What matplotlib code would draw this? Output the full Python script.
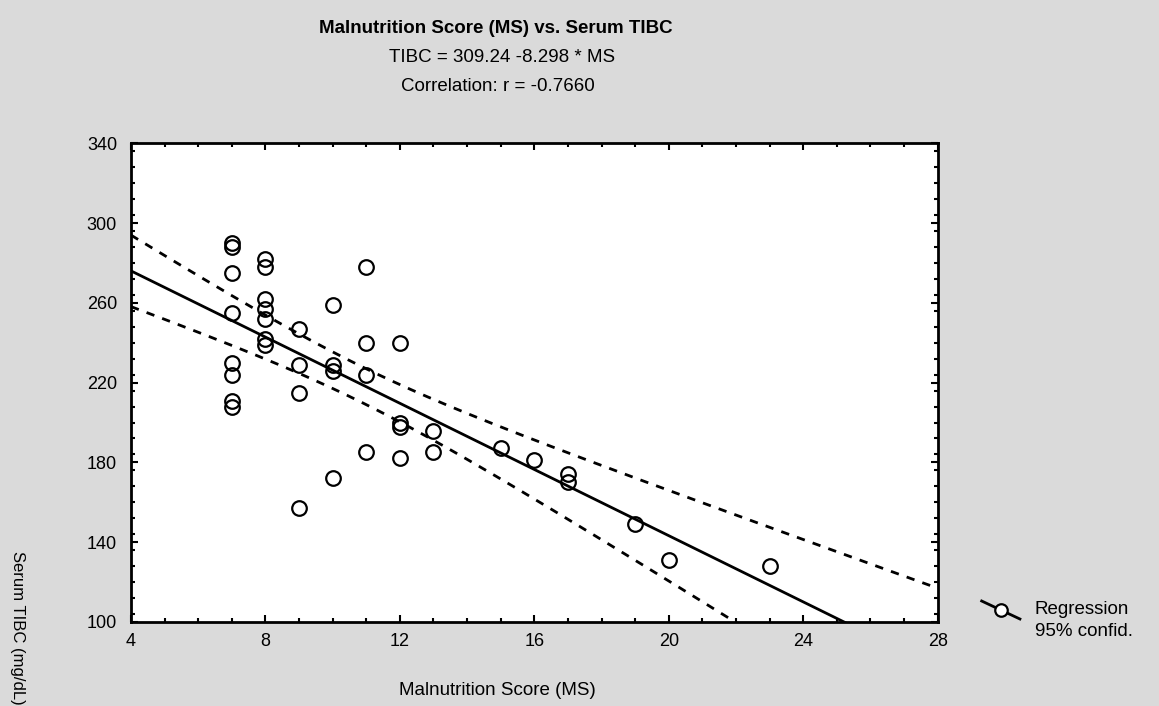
import numpy as np
import matplotlib
matplotlib.use("Agg")
import matplotlib.pyplot as plt
from matplotlib.lines import Line2D
from matplotlib.ticker import MultipleLocator

plt.rcParams['font.family'] = ['Liberation Sans', 'DejaVu Sans']

# ---- data ----
ms = [7, 7, 7, 7, 7, 7, 7, 7,
      8, 8, 8, 8, 8, 8, 8,
      9, 9, 9, 9,
      10, 10, 10, 10,
      11, 11, 11, 11,
      12, 12, 12, 12,
      13, 13,
      15, 16, 17, 17, 19, 20, 23]
tibc = [290, 288, 275, 255, 230, 224, 211, 208,
        282, 278, 262, 257, 252, 242, 239,
        247, 229, 215, 157,
        259, 229, 226, 172,
        278, 240, 224, 185,
        240, 200, 198, 182,
        196, 185,
        187, 181, 174, 170, 149, 131, 128]
intercept = 309.24
slope = -8.298
r_value = -0.7660
t_crit = 2.024

title = "Malnutrition Score (MS) vs. Serum TIBC"
eq_text = "TIBC = 309.24 -8.298 * MS"
corr_text = "Correlation: r = -0.7660"
xlabel = "Malnutrition Score (MS)"
ylabel = "Serum TIBC (mg/dL)"
xticks = [4, 8, 12, 16, 20, 24, 28]
yticks = [100, 140, 180, 220, 260, 300, 340]

x = np.array(ms, float)
y = np.array(tibc, float)
n = len(x)
resid = y - (intercept + slope * x)
s = np.sqrt(np.sum(resid ** 2) / (n - 2))
xbar = x.mean()
sxx = np.sum((x - xbar) ** 2)

xs = np.linspace(4, 28, 200)
yfit = intercept + slope * xs
half = t_crit * s * np.sqrt(1.0 / n + (xs - xbar) ** 2 / sxx)

fig = plt.figure(figsize=(11.59, 7.06), dpi=100)
fig.patch.set_facecolor('#dadada')
ax = fig.add_axes([0.113, 0.119, 0.696, 0.678])
ax.set_facecolor('white')

ax.plot(xs, yfit, color='black', lw=2.0)
ax.plot(xs, yfit + half, color='black', lw=2.0, linestyle=(0, (3, 3)))
ax.plot(xs, yfit - half, color='black', lw=2.0, linestyle=(0, (3, 3)))
ax.plot(x, y, linestyle='none', marker='o', ms=10.5, mfc='none', mec='black', mew=1.6)

ax.set_xlim(4, 28)
ax.set_ylim(100, 340)
ax.set_xticks(xticks)
ax.set_yticks(yticks)
ax.xaxis.set_minor_locator(MultipleLocator(1))
ax.yaxis.set_minor_locator(MultipleLocator(8))
ax.tick_params(which='both', direction='in', top=True, right=True, width=1.5, labelsize=13)
ax.tick_params(axis='y', which='major', length=5, pad=10)
ax.tick_params(axis='x', which='major', length=5, pad=8)
ax.tick_params(which='minor', length=3)
for sp in ax.spines.values():
    sp.set_linewidth(2.0)

fig.text(0.428, 0.960, title, ha='center', va='center', fontsize=13.5, fontweight='bold')
fig.text(0.433, 0.919, eq_text, ha='center', va='center', fontsize=13.5)
fig.text(0.430, 0.878, corr_text, ha='center', va='center', fontsize=13.5)

fig.text(0.429, 0.022, xlabel, ha='center', va='center', fontsize=13.5)
fig.text(0.015, 1 - 628 / 706, ylabel, ha='center', va='center', rotation=270, fontsize=12)

# legend
lx = [0.847, 0.880]
ly = [1 - 601 / 706, 1 - 619 / 706]
fig.add_artist(Line2D(lx, ly, transform=fig.transFigure, color='black', lw=2))
fig.add_artist(Line2D([np.mean(lx)], [np.mean(ly)], transform=fig.transFigure,
                      marker='o', ms=9, mfc='white', mec='black', mew=1.6, linestyle='none'))
fig.text(0.893, 1 - 610 / 706, "Regression", ha='left', va='center', fontsize=13.5)
fig.text(0.893, 1 - 632 / 706, "95% confid.", ha='left', va='center', fontsize=13.5)

fig.savefig("out.png", dpi=100, facecolor=fig.get_facecolor())
